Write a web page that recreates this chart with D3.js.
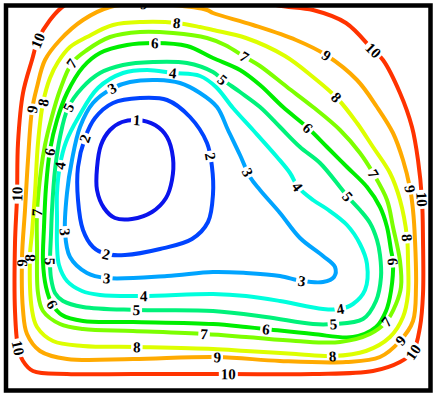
<!DOCTYPE html>
<html>
<head>
<meta charset="utf-8">
<script src="https://cdn.jsdelivr.net/npm/d3@7"></script>
<style>
  html, body { margin: 0; padding: 0; background: #fff; }
  svg { display: block; }
</style>
</head>
<body>
<svg id="chart" width="433" height="394"></svg>
<script>
// Contour levels and their line colours (blue = low, red = high)
const levels = [1, 2, 3, 4, 5, 6, 7, 8, 9, 10];
const levelColors = ["#0a14ec", "#0044ff", "#00a4ff", "#00ffdd", "#00f27a",
                     "#00ee00", "#7cff00", "#ddff00", "#ffaa00", "#ff3300"];

// Traced iso-lines, field coordinates (x right, y down), one closed ring per level
const contour1 = [[131,115],[149,120],[161,132],[167,153],[166,175],[160,193],[146,207],[126,214],
  [109,213],[98,203],[91,185],[91,163],[95,140],[104,125],[116,117]];
const contour2 = [[134,93],[161,95],[184,112],[201,138],[206,162],[207,189],[202,217],[186,234],
  [154,244],[119,250],[100,249],[87,242],[77,225],[72,195],[72,162],[79,133],[89,113],[107,98]];
const contour3 = [[124,77],[151,75],[174,78],[194,88],[211,102],[222,125],[234,150],[244,172],
  [254,185],[274,208],[294,233],[317,251],[329,262],[328,272],[317,277],[296,276],[274,271],
  [240,268],[207,267],[161,271],[100,273],[81,268],[64,252],[59,227],[61,188],[66,155],
  [74,122],[87,98],[107,83]];
const contour4 = [[117,68],[141,65],[167,68],[194,71],[210,82],[227,103],[247,125],[271,152],
  [284,168],[292,182],[307,195],[321,204],[341,220],[354,239],[361,259],[359,285],[347,299],
  [334,304],[317,304],[274,296],[240,291],[207,289],[137,291],[94,290],[76,286],[61,276],
  [53,260],[51,240],[51,215],[51,188],[54,160],[60,137],[72,113],[92,83]];
const contour5 = [[117,60],[147,57],[181,58],[207,67],[217,75],[234,87],[254,102],[274,122],
  [294,142],[314,158],[334,182],[342,192],[354,205],[364,218],[371,235],[374,250],[375,272],
  [370,296],[357,314],[327,319],[307,319],[260,312],[207,306],[131,305],[77,302],[57,296],
  [49,288],[45,273],[44,257],[45,230],[46,205],[49,165],[54,132],[62,103],[76,83],[94,68]];
const contour6 = [[94,48],[121,40],[149,38],[181,41],[207,53],[234,65],[254,80],[277,102],
  [302,123],[321,142],[341,162],[361,182],[374,202],[381,222],[385,245],[387,257],[385,286],
  [380,306],[370,322],[347,332],[307,329],[259,324],[240,322],[207,319],[127,317],[77,316],
  [56,310],[46,299],[40,282],[37,257],[38,222],[40,182],[44,145],[51,115],[61,88],[77,62]];
const contour7 = [[81,45],[104,32],[134,27],[167,28],[201,33],[219,40],[239,52],[254,61],
  [281,82],[307,102],[334,125],[354,148],[367,168],[381,195],[387,222],[394,256],[395,282],
  [390,299],[380,317],[364,329],[334,337],[290,336],[240,332],[199,329],[127,326],[77,324],
  [54,319],[37,306],[32,288],[31,242],[31,208],[35,165],[39,140],[45,115],[54,85],[66,58]];
const contour8 = [[81,32],[107,20],[137,17],[171,18],[194,22],[207,25],[240,33],[279,51],
  [307,72],[331,93],[351,118],[367,142],[384,168],[394,195],[401,232],[402,256],[402,289],
  [397,312],[384,332],[360,346],[327,351],[290,349],[240,346],[207,344],[131,342],[77,341],
  [47,336],[31,322],[26,305],[24,250],[26,228],[29,188],[32,138],[37,98],[44,73],[52,57],[64,42]];
const contour9 = [[77,15],[104,2],[134,-1],[167,0],[201,5],[207,8],[247,20],[290,35],[320,50],
  [351,75],[371,102],[387,128],[397,155],[404,183],[407,205],[409,235],[410,282],[407,316],
  [394,336],[374,352],[340,357],[274,356],[211,352],[127,354],[61,354],[34,346],[21,329],
  [17,305],[16,253],[19,205],[22,155],[26,105],[31,82],[39,55],[54,35]];
const contour10 = [[59,0],[44,15],[32,35],[26,55],[17,88],[12,138],[11,192],[9,238],[9,306],
  [12,342],[17,356],[27,366],[61,369],[127,369],[222,369],[307,369],[367,366],[394,357],
  [407,347],[414,322],[417,289],[417,235],[416,195],[412,155],[406,122],[394,88],[377,55],
  [367,45],[340,18],[307,5],[270,0],[224,-15],[164,-23],[104,-17]];

// Where each level's value is written along its line
const labels1 = [[131,117]];
const labels2 = [[79,133],[202,152],[100,249]];
const labels3 = [[107,83],[241,167],[59,227],[100,273],[296,276]];
const labels4 = [[167,68],[292,182],[54,160],[137,291],[334,304]];
const labels5 = [[216,75],[62,103],[342,192],[44,257],[131,305],[327,319]];
const labels6 = [[149,38],[302,123],[43,147],[387,257],[46,299],[259,324]];
const labels7 = [[66,58],[239,52],[367,168],[31,208],[380,317],[199,329]];
const labels8 = [[171,18],[37,98],[331,93],[401,232],[24,252],[131,342],[327,351]];
const labels9 = [[137,0],[320,50],[26,105],[404,183],[16,258],[394,336],[211,352]];
const labels10 = [[32,35],[367,45],[11,190],[416,195],[12,342],[407,347],[222,369]];

const contours = [contour1, contour2, contour3, contour4, contour5,
                  contour6, contour7, contour8, contour9, contour10];
const labelSets = [labels1, labels2, labels3, labels4, labels5,
                   labels6, labels7, labels8, labels9, labels10];

const W = 433, H = 394;
const frame = { left: 6, top: 5.5, right: 430.5, bottom: 390.5 };
const labelSize = 15;

const x = d3.scaleLinear().domain([0, 424]).range([6, 430]);
const y = d3.scaleLinear().domain([0, 385]).range([5, 390]);

const svg = d3.select("#chart");
const defs = svg.append("defs");

defs.append("clipPath").attr("id", "plot-clip")
  .append("rect")
  .attr("x", frame.left).attr("y", frame.top)
  .attr("width", frame.right - frame.left).attr("height", frame.bottom - frame.top);

const line = d3.line()
  .x(d => x(d[0]))
  .y(d => y(d[1]))
  .curve(d3.curveCatmullRomClosed.alpha(0.5));

const plot = svg.append("g").attr("clip-path", "url(#plot-clip)");
const lineLayer = plot.append("g");
const labelLayer = plot.append("g");

levels.forEach((level, i) => {
  const maskId = "gap-" + level;
  const mask = defs.append("mask").attr("id", maskId)
    .attr("maskUnits", "userSpaceOnUse")
    .attr("x", 0).attr("y", 0).attr("width", W).attr("height", H);
  mask.append("rect").attr("x", 0).attr("y", 0).attr("width", W).attr("height", H)
    .attr("fill", "#fff");

  const path = lineLayer.append("path")
    .datum(contours[i])
    .attr("d", line)
    .attr("fill", "none")
    .attr("stroke", levelColors[i])
    .attr("stroke-width", 4)
    .attr("stroke-linejoin", "round")
    .attr("mask", `url(#${maskId})`);

  // Sample the ring once, then snap every label anchor onto it
  const node = path.node();
  const total = node.getTotalLength();
  const step = 2;
  const n = Math.ceil(total / step);
  const samples = [];
  for (let k = 0; k < n; k++) {
    const p = node.getPointAtLength(k * step);
    samples.push([p.x, p.y]);
  }

  labelSets[i].forEach(anchor => {
    const ax = x(anchor[0]), ay = y(anchor[1]);
    let best = 0, bestD = Infinity;
    samples.forEach((s, k) => {
      const d = (s[0] - ax) ** 2 + (s[1] - ay) ** 2;
      if (d < bestD) { bestD = d; best = k; }
    });
    const p = samples[best];
    const p0 = samples[(best - 2 + n) % n], p1 = samples[(best + 2) % n];
    let ang = Math.atan2(p1[1] - p0[1], p1[0] - p0[0]) * 180 / Math.PI;
    if (ang > 90) ang -= 180;
    if (ang <= -90) ang += 180;
    const tf = `translate(${p[0]},${p[1]}) rotate(${ang})`;

    labelLayer.append("text")
      .attr("transform", tf)
      .attr("text-anchor", "middle")
      .attr("dy", "0.35em")
      .attr("font-family", "'Liberation Serif', 'Times New Roman', serif")
      .attr("font-weight", "bold")
      .attr("font-size", labelSize)
      .attr("fill", "#000")
      .text(level);

    const tw = String(level).length * labelSize * 0.5;
    mask.append("rect")
      .attr("x", -tw / 2 - 2).attr("y", -6)
      .attr("width", tw + 4).attr("height", 12)
      .attr("transform", tf)
      .attr("fill", "#000");
  });
});

// Plot frame
svg.append("rect")
  .attr("x", frame.left).attr("y", frame.top)
  .attr("width", frame.right - frame.left).attr("height", frame.bottom - frame.top)
  .attr("fill", "none")
  .attr("stroke", "#000")
  .attr("stroke-width", 4.5);
</script>
</body>
</html>
